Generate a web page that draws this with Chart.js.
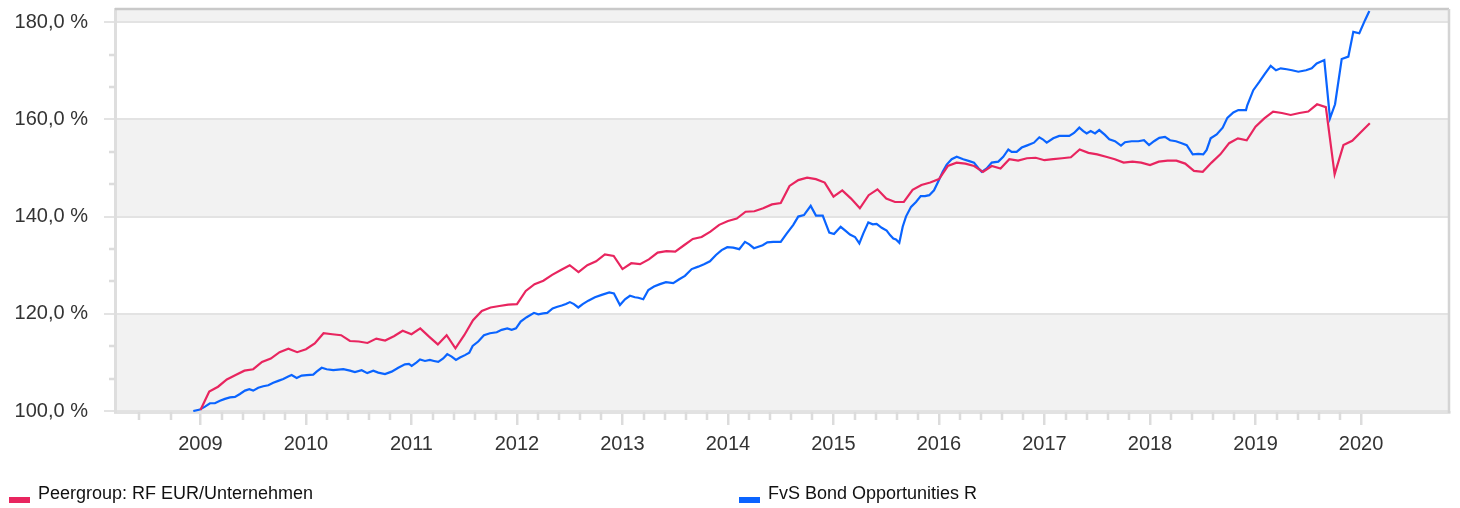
<!DOCTYPE html>
<html>
<head>
<meta charset="utf-8">
<title>FvS Bond Opportunities R</title>
<script src="https://cdn.jsdelivr.net/npm/chart.js@4.4.1/dist/chart.umd.min.js"></script>
<style>
  html, body { margin: 0; padding: 0; background: #fff; }
  #wrap { position: relative; width: 1460px; height: 508px; }
  #legend { position: absolute; left: 0; top: 482px; width: 1460px; height: 26px;
            font: 18px "Liberation Sans", Arial, sans-serif; color: #111; }
  .item { position: absolute; top: 0; white-space: nowrap; }
  .swatch { position: absolute; left: 0; top: 15px; width: 21px; height: 6px; }
  .label { position: absolute; left: 29px; top: 1px; line-height: 21px; }
</style>
</head>
<body>
<div id="wrap">
  <canvas id="chart" width="1460" height="508"></canvas>
  <div id="legend"></div>
</div>
<script>
// series labels
const peerLabel = 'Peergroup: RF EUR/Unternehmen';
const fvsLabel = 'FvS Bond Opportunities R';

// peer group: monthly values starting Jan 2009
const peerStartYear = 2009;
const peerValues = [
  100.2, 104.0, 105.0, 106.5, 107.4, 108.3, 108.6, 110.1, 110.8, 112.1, 112.8, 112.1,
  112.7, 113.9, 116.0, 115.8, 115.6, 114.4, 114.3, 114.0, 114.9, 114.5, 115.4, 116.5,
  115.8, 117.0, 115.3, 113.7, 115.6, 112.9, 115.6, 118.7, 120.6, 121.3, 121.6, 121.9,
  122.0, 124.7, 126.1, 126.8, 128.0, 129.0, 130.0, 128.6, 130.0, 130.8, 132.2, 131.9,
  129.2, 130.4, 130.2, 131.2, 132.6, 132.9, 132.8, 134.1, 135.4, 135.8, 136.9, 138.3,
  139.1, 139.6, 141.0, 141.1, 141.7, 142.5, 142.8, 146.3, 147.5, 148.0, 147.7, 147.0,
  144.1, 145.4, 143.7, 141.7, 144.4, 145.6, 143.7, 143.0, 143.0, 145.5, 146.5, 147.0,
  147.7, 150.4, 151.1, 150.9, 150.4, 149.2, 150.4, 149.9, 151.8, 151.5, 152.0, 152.1,
  151.6, 151.8, 152.0, 152.2, 153.8, 153.1, 152.8, 152.3, 151.8, 151.1, 151.3, 151.1,
  150.6, 151.3, 151.5, 151.5, 150.9, 149.4, 149.2, 151.1, 152.8, 155.1, 156.1, 155.7,
  158.5, 160.2, 161.6, 161.3, 160.9, 161.3, 161.6, 163.1, 162.5, 148.7, 154.7, 155.6,
  157.4, 159.2
];

// fund: dates as decimal years, values in %
const fvsDates = [
  2008.932, 2008.995, 2009.043, 2009.090, 2009.137, 2009.185, 2009.232, 2009.280, 2009.327, 2009.374,
  2009.422, 2009.463, 2009.500, 2009.548, 2009.595, 2009.643, 2009.690, 2009.737, 2009.785, 2009.832,
  2009.864, 2009.912, 2009.959, 2010.007, 2010.069, 2010.101, 2010.149, 2010.196, 2010.259, 2010.354,
  2010.417, 2010.464, 2010.528, 2010.581, 2010.638, 2010.685, 2010.749, 2010.812, 2010.875, 2010.938,
  2010.976, 2011.002, 2011.049, 2011.081, 2011.128, 2011.175, 2011.213, 2011.254, 2011.301, 2011.339,
  2011.381, 2011.422, 2011.460, 2011.507, 2011.548, 2011.580, 2011.633, 2011.687, 2011.744, 2011.808,
  2011.855, 2011.908, 2011.950, 2011.991, 2012.035, 2012.092, 2012.161, 2012.202, 2012.249, 2012.287,
  2012.338, 2012.376, 2012.424, 2012.464, 2012.502, 2012.540, 2012.581, 2012.623, 2012.676, 2012.739,
  2012.803, 2012.875, 2012.919, 2012.976, 2013.024, 2013.071, 2013.118, 2013.150, 2013.197, 2013.245,
  2013.299, 2013.355, 2013.412, 2013.481, 2013.538, 2013.592, 2013.656, 2013.718, 2013.773, 2013.829,
  2013.886, 2013.940, 2013.993, 2014.050, 2014.107, 2014.161, 2014.202, 2014.246, 2014.329, 2014.373,
  2014.429, 2014.500, 2014.556, 2014.619, 2014.666, 2014.720, 2014.784, 2014.834, 2014.898, 2014.960,
  2015.005, 2015.068, 2015.118, 2015.156, 2015.204, 2015.245, 2015.282, 2015.330, 2015.372, 2015.409,
  2015.457, 2015.504, 2015.536, 2015.567, 2015.592, 2015.624, 2015.656, 2015.687, 2015.735, 2015.782,
  2015.827, 2015.867, 2015.908, 2015.953, 2015.993, 2016.035, 2016.073, 2016.120, 2016.168, 2016.230,
  2016.287, 2016.332, 2016.372, 2016.405, 2016.452, 2016.500, 2016.562, 2016.609, 2016.657, 2016.689,
  2016.736, 2016.784, 2016.831, 2016.900, 2016.951, 2016.983, 2017.021, 2017.083, 2017.140, 2017.235,
  2017.280, 2017.330, 2017.368, 2017.400, 2017.438, 2017.479, 2017.519, 2017.573, 2017.614, 2017.668,
  2017.725, 2017.763, 2017.826, 2017.889, 2017.943, 2017.991, 2018.038, 2018.088, 2018.142, 2018.190,
  2018.246, 2018.300, 2018.348, 2018.405, 2018.458, 2018.505, 2018.537, 2018.575, 2018.632, 2018.689,
  2018.733, 2018.790, 2018.837, 2018.910, 2018.922, 2018.979, 2019.036, 2019.090, 2019.144, 2019.194,
  2019.239, 2019.296, 2019.346, 2019.406, 2019.479, 2019.533, 2019.580, 2019.652, 2019.706, 2019.754,
  2019.817, 2019.880, 2019.927, 2019.984, 2020.038, 2020.079
];
const fvsValues = [
  100.0, 100.3, 100.9, 101.6, 101.6, 102.1, 102.5, 102.8, 102.9, 103.5,
  104.2, 104.5, 104.2, 104.8, 105.1, 105.3, 105.8, 106.2, 106.6, 107.1,
  107.4, 106.8, 107.3, 107.4, 107.5, 108.1, 108.9, 108.6, 108.4, 108.6,
  108.3, 108.0, 108.4, 107.8, 108.3, 107.9, 107.6, 108.1, 108.9, 109.6,
  109.7, 109.3, 110.0, 110.6, 110.3, 110.5, 110.3, 110.1, 110.8, 111.7,
  111.2, 110.5, 111.0, 111.5, 112.0, 113.4, 114.3, 115.6, 116.0, 116.2,
  116.7, 117.0, 116.7, 117.0, 118.4, 119.3, 120.2, 119.9, 120.1, 120.2,
  121.1, 121.4, 121.7, 122.0, 122.4, 122.0, 121.3, 122.0, 122.7, 123.4,
  123.9, 124.4, 124.2, 121.8, 123.0, 123.7, 123.4, 123.3, 123.0, 124.9,
  125.6, 126.1, 126.5, 126.3, 127.1, 127.8, 129.2, 129.7, 130.2, 130.8,
  132.1, 133.1, 133.7, 133.6, 133.3, 134.8, 134.3, 133.5, 134.1, 134.7,
  134.8, 134.8, 136.5, 138.3, 140.0, 140.3, 142.2, 140.2, 140.2, 136.7,
  136.4, 137.9, 137.0, 136.3, 135.8, 134.5, 136.5, 138.8, 138.4, 138.5,
  137.7, 137.1, 136.2, 135.5, 135.3, 134.6, 137.9, 140.0, 142.0, 143.0,
  144.2, 144.2, 144.4, 145.4, 147.2, 149.2, 150.7, 151.8, 152.3, 151.8,
  151.4, 151.1, 150.0, 149.2, 149.9, 151.1, 151.3, 152.3, 153.8, 153.3,
  153.3, 154.2, 154.6, 155.2, 156.3, 155.9, 155.2, 156.1, 156.6, 156.6,
  157.2, 158.3, 157.6, 157.1, 157.6, 157.1, 157.8, 156.8, 155.9, 155.5,
  154.6, 155.3, 155.5, 155.5, 155.7, 154.7, 155.5, 156.2, 156.4, 155.7,
  155.5, 155.1, 154.7, 152.8, 152.9, 152.8, 153.7, 156.1, 156.9, 158.3,
  160.3, 161.4, 161.9, 161.9, 162.9, 166.0, 167.7, 169.4, 171.0, 170.1,
  170.5, 170.3, 170.1, 169.8, 170.1, 170.5, 171.5, 172.2, 160.2, 163.1,
  172.4, 172.9, 178.0, 177.7, 180.4, 182.3
];

// axis ticks
const yearTicks = [2009, 2010, 2011, 2012, 2013, 2014, 2015, 2016, 2017, 2018, 2019, 2020];
const yTicks = [100, 120, 140, 160, 180];

const PINK = '#e8255f';
const BLUE = '#0a64ff';
const FONT = '"Liberation Sans", Arial, sans-serif';

// minor tick positions
const minorXTicks = [2008.42, 2008.72];
for (let y = 2009; y < 2020; y++) {
  for (let k = 1; k < 5; k++) minorXTicks.push(y + k * 0.2);
}
const minorYTicks = [];
for (let v = 100; v < 180; v += 20) {
  minorYTicks.push(v + 20 / 3, v + 40 / 3);
}

const peerPoints = peerValues.map((v, i) => ({ x: peerStartYear + i / 12, y: v }));
const fvsPoints = fvsDates.map((d, i) => ({ x: d, y: fvsValues[i] }));

// grey bands behind every other gridline interval
const bandsPlugin = {
  id: 'bands',
  beforeDraw(chart) {
    const { ctx, chartArea, scales: { y } } = chart;
    ctx.save();
    ctx.fillStyle = '#f2f2f2';
    [[y.min, 100], [100, 120], [140, 160], [180, y.max]].forEach(([a, b]) => {
      const top = y.getPixelForValue(Math.min(b, y.max));
      const bottom = y.getPixelForValue(Math.max(a, y.min));
      ctx.fillRect(chartArea.left, top, chartArea.right - chartArea.left, bottom - top);
    });
    ctx.restore();
  },
  afterDraw(chart) {
    const { ctx, chartArea, scales: { x, y } } = chart;
    ctx.save();
    ctx.strokeStyle = '#dcdcdc';
    ctx.lineWidth = 2.5;
    ctx.beginPath();
    minorXTicks.forEach(v => {
      const px = Math.round(x.getPixelForValue(v));
      ctx.moveTo(px, chartArea.bottom);
      ctx.lineTo(px, chartArea.bottom + 8);
    });
    minorYTicks.forEach(v => {
      const py = Math.round(y.getPixelForValue(v));
      ctx.moveTo(chartArea.left - 6, py);
      ctx.lineTo(chartArea.left, py);
    });
    ctx.stroke();
    // top and right frame
    ctx.strokeStyle = '#c9c9c9';
    ctx.lineWidth = 2.5;
    ctx.beginPath();
    ctx.moveTo(chartArea.left, chartArea.top);
    ctx.lineTo(chartArea.right, chartArea.top);
    ctx.stroke();
    ctx.strokeStyle = '#d4d4d4';
    ctx.beginPath();
    ctx.moveTo(chartArea.right, chartArea.top);
    ctx.lineTo(chartArea.right, chartArea.bottom + 1);
    ctx.stroke();
    ctx.restore();
  }
};

const ctx = document.getElementById('chart').getContext('2d');
const chart = new Chart(ctx, {
  type: 'line',
  data: {
    datasets: [{
      label: peerLabel,
      data: peerPoints,
      borderColor: PINK,
      backgroundColor: PINK,
      borderWidth: 2.2,
      pointRadius: 0,
      tension: 0
    }, {
      label: fvsLabel,
      data: fvsPoints,
      borderColor: BLUE,
      backgroundColor: BLUE,
      borderWidth: 2.2,
      pointRadius: 0,
      tension: 0
    }]
  },
  options: {
    responsive: false,
    animation: false,
    layout: { padding: { top: 9, right: 11, left: 0, bottom: 0 } },
    plugins: {
      legend: { display: false },
      tooltip: { enabled: false }
    },
    scales: {
      x: {
        type: 'linear',
        min: 2008.19,
        max: 2020.834,
        afterBuildTicks: s => { s.ticks = yearTicks.map(v => ({ value: v })); },
        afterFit: s => { s.height = 96; s.paddingLeft = 0; s.paddingRight = 0; },
        ticks: {
          autoSkip: false,
          maxRotation: 0,
          padding: 7,
          color: '#333',
          font: { family: FONT, size: 20 },
          callback: v => String(v)
        },
        grid: { drawOnChartArea: false, tickLength: 13, color: '#dcdcdc', lineWidth: 2.5 },
        border: { color: '#e2e2e2', width: 3 }
      },
      y: {
        min: 99.8,
        max: 182.7,
        afterBuildTicks: s => { s.ticks = yTicks.map(v => ({ value: v })); },
        afterFit: s => { s.width = 115; s.paddingTop = 0; s.paddingBottom = 0; },
        ticks: {
          padding: 16,
          color: '#333',
          font: { family: FONT, size: 20 },
          callback: v => v.toFixed(1).replace('.', ',') + ' %'
        },
        grid: { color: '#e3e3e3', lineWidth: 2, tickLength: 11 },
        border: { color: '#dedede', width: 3 }
      }
    }
  },
  plugins: [bandsPlugin]
});

// legend in two columns under the chart
const legend = document.getElementById('legend');
chart.data.datasets.forEach((ds, i) => {
  const item = document.createElement('div');
  item.className = 'item';
  item.style.left = (i === 0 ? 9 : 739) + 'px';
  const sw = document.createElement('span');
  sw.className = 'swatch';
  sw.style.background = ds.borderColor;
  const lb = document.createElement('span');
  lb.className = 'label';
  lb.textContent = ds.label;
  item.appendChild(sw);
  item.appendChild(lb);
  legend.appendChild(item);
});
</script>
</body>
</html>
